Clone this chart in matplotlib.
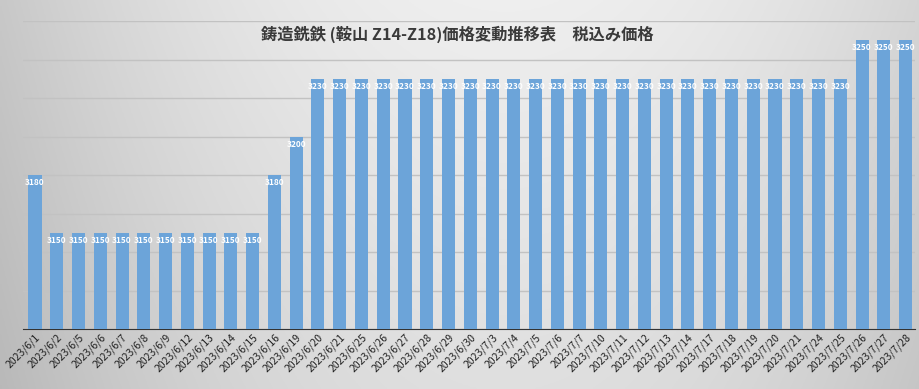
import matplotlib
matplotlib.use("Agg")
import matplotlib.pyplot as plt
import numpy as np

plt.rcParams['font.family'] = ['Noto Sans CJK JP', 'DejaVu Sans']

# data
dates = ['2023/6/1', '2023/6/2', '2023/6/5', '2023/6/6', '2023/6/7', '2023/6/8',
         '2023/6/9', '2023/6/12', '2023/6/13', '2023/6/14', '2023/6/15', '2023/6/16',
         '2023/6/19', '2023/6/20', '2023/6/21', '2023/6/25', '2023/6/26', '2023/6/27',
         '2023/6/28', '2023/6/29', '2023/6/30', '2023/7/3', '2023/7/4', '2023/7/5',
         '2023/7/6', '2023/7/7', '2023/7/10', '2023/7/11', '2023/7/12', '2023/7/13',
         '2023/7/14', '2023/7/17', '2023/7/18', '2023/7/19', '2023/7/20', '2023/7/21',
         '2023/7/24', '2023/7/25', '2023/7/26', '2023/7/27', '2023/7/28']
prices = [3180, 3150, 3150, 3150, 3150, 3150, 3150, 3150, 3150, 3150, 3150, 3180,
          3200, 3230, 3230, 3230, 3230, 3230, 3230, 3230, 3230, 3230, 3230, 3230,
          3230, 3230, 3230, 3230, 3230, 3230, 3230, 3230, 3230, 3230, 3230, 3230,
          3230, 3230, 3250, 3250, 3250]
title = '鋳造銑鉄 (鞍山 Z14-Z18)価格変動推移表　税込み価格'

fig = plt.figure(figsize=(9.2, 3.89), dpi=100)

# gray gradient background: light in the middle/top, darker at the sides
bg = fig.add_axes([0, 0, 1, 1], zorder=-10)
yy, xx = np.mgrid[0:1:200j, 0:1:400j]
shade = 0.935 - 0.15 * ((xx - 0.55) / 0.55) ** 2 - 0.06 * yy
bg.imshow(np.dstack([shade] * 3), aspect='auto', extent=[0, 1, 0, 1], origin='upper')
bg.axis('off')

ax = fig.add_axes([0.025, 0.154, 0.97, 0.792])
ax.patch.set_alpha(0)
x = np.arange(len(dates))
bars = ax.bar(x, prices, width=0.6, color='#6ca4d9', zorder=3)

for xi, v in zip(x, prices):
    ax.text(xi, v - 4, str(v), ha='center', va='center', color='white',
            fontsize=6, fontweight='bold', zorder=4)

ax.set_ylim(3100, 3260)
ax.set_xlim(-0.55, len(dates) - 0.55)
ax.set_yticks(np.arange(3100, 3261, 20))
ax.yaxis.grid(True, color='#c2c2c2', linewidth=1)
ax.set_axisbelow(True)
ax.tick_params(axis='y', left=False, labelleft=False)
ax.tick_params(axis='x', length=0, pad=2)
ax.set_xticks(x)
ax.set_xticklabels(dates, rotation=45, ha='right', rotation_mode='anchor',
                   fontsize=7.5, color='#222222')
for s in ['top', 'right', 'left']:
    ax.spines[s].set_visible(False)
ax.spines['bottom'].set_color('#333333')

fig.text(0.497, 0.913, title, ha='center', va='center', fontsize=11.7,
         fontweight='bold', color='#3a3a3a')

fig.savefig('out.png', dpi=100)
